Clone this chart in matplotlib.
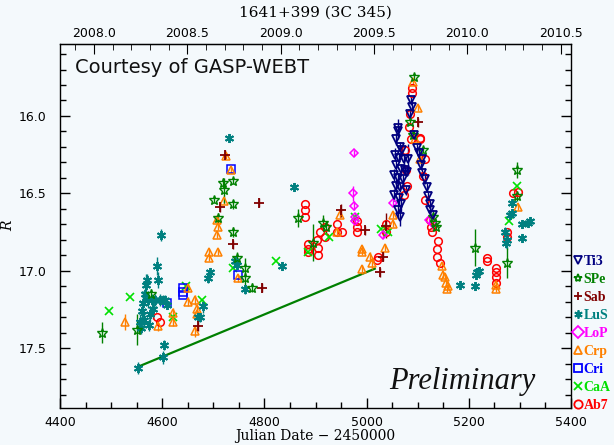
import matplotlib
matplotlib.use("Agg")
import matplotlib.pyplot as plt
from matplotlib.lines import Line2D
from matplotlib.ticker import MultipleLocator, FixedLocator, FormatStrFormatter

# ---------------- data (JD-2450000, R mag, error) ----------------
ti3_jd = [5061, 5061, 5058, 5065, 5069, 5056, 5063, 5073, 5058, 5067, 5075, 5054, 5061, 5071,
          5058, 5065, 5077, 5054, 5063, 5067, 5061, 5065, 5079, 5081, 5087, 5089, 5085,
          5093, 5099, 5103, 5108, 5106, 5108, 5114, 5118, 5120, 5124, 5124, 5130]
ti3_mag = [16.08, 16.10, 16.15, 16.20, 16.22, 16.25, 16.27, 16.28, 16.32, 16.34, 16.35, 16.38, 16.40, 16.41,
           16.45, 16.46, 16.48, 16.51, 16.53, 16.57, 16.61, 16.65, 16.36, 16.28, 15.90, 15.94, 15.99,
           16.12, 16.21, 16.24, 16.28, 16.32, 16.37, 16.41, 16.46, 16.52, 16.57, 16.61, 16.64]
ti3_err = [0.06, 0.05, 0.04, 0.03, 0.03, 0.04, 0.03, 0.03, 0.04, 0.03, 0.03, 0.04, 0.03, 0.03,
           0.04, 0.03, 0.03, 0.04, 0.04, 0.05, 0.05, 0.06, 0.03, 0.10, 0.03, 0.03, 0.03,
           0.03, 0.03, 0.03, 0.03, 0.03, 0.03, 0.03, 0.03, 0.03, 0.03, 0.03, 0.03]

spe_jd = [4482, 4551, 4578, 4701, 4719, 4739, 4721, 4739, 4709, 4739, 4746, 4762, 4762, 4776,
          4866, 4895, 4915, 4920, 5093, 5085, 5091, 5111, 5130, 5134, 5136, 5212, 5294, 5294, 5275]
spe_mag = [17.40, 17.38, 17.15, 16.54, 16.43, 16.42, 16.48, 16.57, 16.66, 16.75, 16.92, 16.98, 17.05, 17.11,
           16.66, 16.82, 16.69, 16.72, 15.75, 16.04, 16.12, 16.22, 16.65, 16.69, 16.72, 16.85, 16.35, 16.52, 16.95]
spe_err = [0.07, 0.10, 0.03, 0.02, 0.03, 0.02, 0.08, 0.03, 0.03, 0.03, 0.04, 0.06, 0.04, 0.03,
           0.06, 0.12, 0.05, 0.04, 0.02, 0.02, 0.02, 0.02, 0.02, 0.02, 0.02, 0.12, 0.05, 0.03, 0.10]

sab_jd = [4670, 4723, 4713, 4739, 4789, 4795, 4950, 4997, 5032, 5026, 5038, 5101]
sab_mag = [17.36, 16.25, 16.59, 16.83, 16.56, 17.11, 16.61, 16.74, 16.91, 17.01, 16.71, 16.04]
sab_err = [0.03, 0.03, 0.03, 0.03, 0.03, 0.03, 0.04, 0.03, 0.03, 0.03, 0.08, 0.03]

lus_jd = [4553, 4602, 4604, 4557, 4560, 4562, 4566, 4568, 4570, 4572, 4576, 4580, 4582, 4586,
          4590, 4592, 4596, 4598, 4602, 4605, 4609, 4558, 4564, 4574, 4680, 4670, 4674, 4694,
          4690, 4731, 4742, 4746, 4762, 4834, 4858, 5183, 5216, 5220, 5212, 5214, 5271, 5273,
          5275, 5281, 5285, 5285, 5304, 5316, 5320, 5304]
lus_mag = [17.63, 17.56, 17.48, 17.33, 17.26, 17.21, 17.15, 17.09, 17.06, 17.19, 17.28, 17.19, 17.25, 17.19,
           16.97, 17.06, 17.19, 16.77, 17.19, 17.19, 17.22, 17.37, 17.32, 17.35, 17.23, 17.30, 17.30, 17.01,
           17.05, 16.14, 16.94, 16.96, 17.12, 16.97, 16.46, 17.09, 17.01, 17.00, 17.10, 17.03, 16.75, 16.82,
           16.80, 16.64, 16.63, 16.56, 16.70, 16.69, 16.68, 16.79]
lus_err = [0.04, 0.04, 0.03, 0.05, 0.06, 0.08, 0.05, 0.07, 0.04, 0.05, 0.05, 0.04, 0.06, 0.04,
           0.06, 0.05, 0.04, 0.04, 0.03, 0.03, 0.03, 0.04, 0.05, 0.04, 0.04, 0.03, 0.03, 0.03,
           0.03, 0.02, 0.03, 0.03, 0.03, 0.02, 0.02, 0.02, 0.02, 0.02, 0.02, 0.02, 0.03, 0.03,
           0.06, 0.02, 0.02, 0.02, 0.02, 0.02, 0.02, 0.02]

lop_jd = [4975, 4973, 4975, 4977, 4977, 5052, 5032, 5122, 5130]
lop_mag = [16.24, 16.50, 16.58, 16.65, 16.68, 16.56, 16.77, 16.67, 16.70]
lop_err = [0.02, 0.05, 0.03, 0.02, 0.02, 0.02, 0.02, 0.02, 0.02]

crp_jd = [4527, 4592, 4621, 4621, 4650, 4650, 4664, 4668, 4668, 4664, 4692, 4692, 4709, 4707,
          4709, 4707, 4721, 4725, 4735, 4748, 4948, 4942, 4991, 4991, 5007, 5011, 4991, 5036,
          5052, 5052, 5091, 5101, 5095, 5104, 5148, 5150, 5153, 5155, 5157, 5159, 5253, 5253, 5296]
crp_mag = [17.33, 17.36, 17.27, 17.33, 17.11, 17.20, 17.19, 17.25, 17.28, 17.39, 16.88, 16.92, 16.88, 16.77,
           16.72, 16.67, 16.55, 16.26, 16.35, 17.05, 16.64, 16.75, 16.86, 16.88, 16.91, 16.95, 16.99, 16.85,
           16.64, 16.70, 15.78, 15.95, 16.15, 16.28, 16.97, 17.03, 17.04, 17.08, 17.12, 17.10, 17.09, 17.12, 16.59]
crp_err = [0.05, 0.03, 0.03, 0.03, 0.03, 0.03, 0.03, 0.03, 0.03, 0.04, 0.02, 0.02, 0.02, 0.02,
           0.02, 0.02, 0.02, 0.02, 0.02, 0.02, 0.02, 0.02, 0.02, 0.02, 0.03, 0.04, 0.03, 0.02,
           0.02, 0.02, 0.02, 0.02, 0.02, 0.02, 0.02, 0.02, 0.02, 0.02, 0.02, 0.02, 0.02, 0.02, 0.02]

cri_jd = [4609, 4641, 4641, 4641, 4735, 4748]
cri_mag = [17.21, 17.11, 17.14, 17.16, 16.34, 17.03]

caa_jd = [4496, 4537, 4646, 4678, 4621, 4823, 4977, 5028, 5042, 5294, 5279, 4926, 4885, 4739]
caa_mag = [17.26, 17.17, 17.10, 17.19, 17.30, 16.94, 16.65, 16.73, 16.75, 16.45, 16.68, 16.78, 16.88, 16.98]

ab7_jd = [4590, 4596, 4880, 4880, 4880, 4885, 4885, 4885, 4903, 4909, 4905, 4905, 4918, 4918,
          4942, 4942, 4952, 4981, 4981, 4981, 5020, 5022, 5038, 5038, 5089, 5089, 5085, 5083,
          5087, 5104, 5104, 5114, 5110, 5114, 5124, 5128, 5126, 5140, 5138, 5138, 5144, 5235,
          5235, 5253, 5253, 5253, 5253, 5275, 5275, 5287, 5296, 5075, 5077, 5079, 5073]
ab7_mag = [17.30, 17.33, 16.57, 16.61, 16.65, 16.83, 16.86, 16.88, 16.80, 16.75, 16.85, 16.90, 16.72, 16.78,
           16.70, 16.75, 16.75, 16.68, 16.72, 16.75, 16.93, 16.91, 16.70, 16.75, 15.85, 15.82, 15.99, 16.07,
           16.15, 16.14, 16.15, 16.28, 16.39, 16.54, 16.67, 16.75, 16.72, 16.81, 16.86, 16.91, 16.95, 16.92,
           16.94, 16.98, 17.01, 17.04, 17.08, 16.75, 16.78, 16.50, 16.49, 16.22, 16.35, 16.45, 16.51]

trend_jd = [4553, 5016]
trend_mag = [17.62, 16.987]

year_ticks = [2008.0, 2008.5, 2009.0, 2009.5, 2010.0, 2010.5]

labels = ["Ti3", "SPe", "Sab", "LuS", "LoP", "Crp", "Cri", "CaA", "Ab7"]
colors = ["#000080", "#008000", "#800000", "#008080", "#ff00ff", "#ff8000", "#0000ff", "#00e000", "#ff0000"]

# ---------------- figure ----------------
bg = "#f4f9fc"
fig = plt.figure(figsize=(6.14, 4.45), dpi=100, facecolor=bg)
ax = fig.add_axes([60/614, 1-408/445, (571-60)/614, (408-44)/445], facecolor=bg)

def series(jd, mag, err, color, marker, ms=5.5, mew=1.1, filled=False):
    if err is not None:
        ax.errorbar(jd, mag, yerr=err, fmt="none", ecolor=color, elinewidth=1.0, zorder=2)
    ax.plot(jd, mag, linestyle="none", marker=marker, ms=ms, mew=mew,
            mec=color, mfc=(color if filled else "none"), color=color, zorder=3)

ax.plot(trend_jd, trend_mag, color=colors[1], lw=1.6, zorder=2)

asterisk = (6, 2, 0)
series(ab7_jd, ab7_mag, None, colors[8], "o", ms=5.5)
series(caa_jd, caa_mag, None, colors[7], "x", ms=5.5, mew=1.2)
series(cri_jd, cri_mag, None, colors[6], "s", ms=5.5)
series(crp_jd, crp_mag, crp_err, colors[5], "^", ms=6)
series(lop_jd, lop_mag, lop_err, colors[4], "D", ms=4.5)
series(lus_jd, lus_mag, lus_err, colors[3], asterisk, ms=6.5, mew=1.4)
series(sab_jd, sab_mag, sab_err, colors[2], "+", ms=6.5, mew=1.3)
series(spe_jd, spe_mag, spe_err, colors[1], "*", ms=7, mew=1.0)
series(ti3_jd, ti3_mag, ti3_err, colors[0], "v", ms=6, mew=1.3)

ax.set_xlim(4400, 5400)
ax.set_ylim(17.887, 15.535)
ax.xaxis.set_major_locator(MultipleLocator(200))
ax.xaxis.set_minor_locator(MultipleLocator(50))
ax.yaxis.set_major_locator(MultipleLocator(0.5))
ax.yaxis.set_minor_locator(MultipleLocator(0.1))
ax.yaxis.set_major_formatter(FormatStrFormatter("%.1f"))
ax.tick_params(which="both", direction="in", bottom=True, left=True, right=True, top=False,
               labelsize=9, colors="black", width=1.0)
ax.tick_params(axis="y", pad=10)
ax.tick_params(axis="x", pad=6)
ax.tick_params(which="major", length=7)
ax.tick_params(which="minor", length=4)
for s in ax.spines.values():
    s.set_linewidth(1.0)

def jd2yr(x):
    return 2008.0 + (x - 4466.5) / 365.25

def yr2jd(y):
    return 4466.5 + (y - 2008.0) * 365.25

top = ax.secondary_xaxis("top", functions=(jd2yr, yr2jd))
top.xaxis.set_major_locator(FixedLocator(year_ticks))
top.xaxis.set_minor_locator(MultipleLocator(0.1))
top.xaxis.set_major_formatter(FormatStrFormatter("%.1f"))
top.tick_params(which="both", direction="in", labelsize=9, pad=3)
top.tick_params(which="major", length=7)
top.tick_params(which="minor", length=4)

ax.set_xlabel("Julian Date \u2212 2450000", fontsize=10, family="DejaVu Serif", labelpad=0)
ax.set_ylabel("R", fontsize=10, family="DejaVu Serif", style="italic")
ax.yaxis.set_label_coords(-0.088, 0.5)
fig.text(0.5 * (60 + 571) / 614, 1 - 13 / 445, "1641+399 (3C 345)", ha="center", va="center",
         fontsize=11, family="DejaVu Serif")

ax.text(0.03, 0.935, "Courtesy of GASP-WEBT", transform=ax.transAxes, fontsize=14,
        family="DejaVu Sans", color="#111111", ha="left", va="center")
ax.text(0.93, 0.072, "Preliminary", transform=ax.transAxes, fontsize=22,
        family="Liberation Serif", style="italic", ha="right", va="center", color="#111111")

markers = ["v", "*", "+", asterisk, "D", "^", "s", "x", "o"]
handles = [Line2D([], [], linestyle="none", marker=m, color=c, mec=c, mfc="none", ms=6, mew=1.3)
           for m, c in zip(markers, colors)]
leg = ax.legend(handles, labels, loc="lower left", bbox_to_anchor=(0.993, -0.03), frameon=False,
                handlelength=0.5, handletextpad=0.15, labelspacing=0.36, borderaxespad=0.1,
                prop={"family": "Liberation Serif", "size": 10, "weight": "bold"},
                labelcolor="linecolor")

fig.savefig("out.png", dpi=100, facecolor=bg)
